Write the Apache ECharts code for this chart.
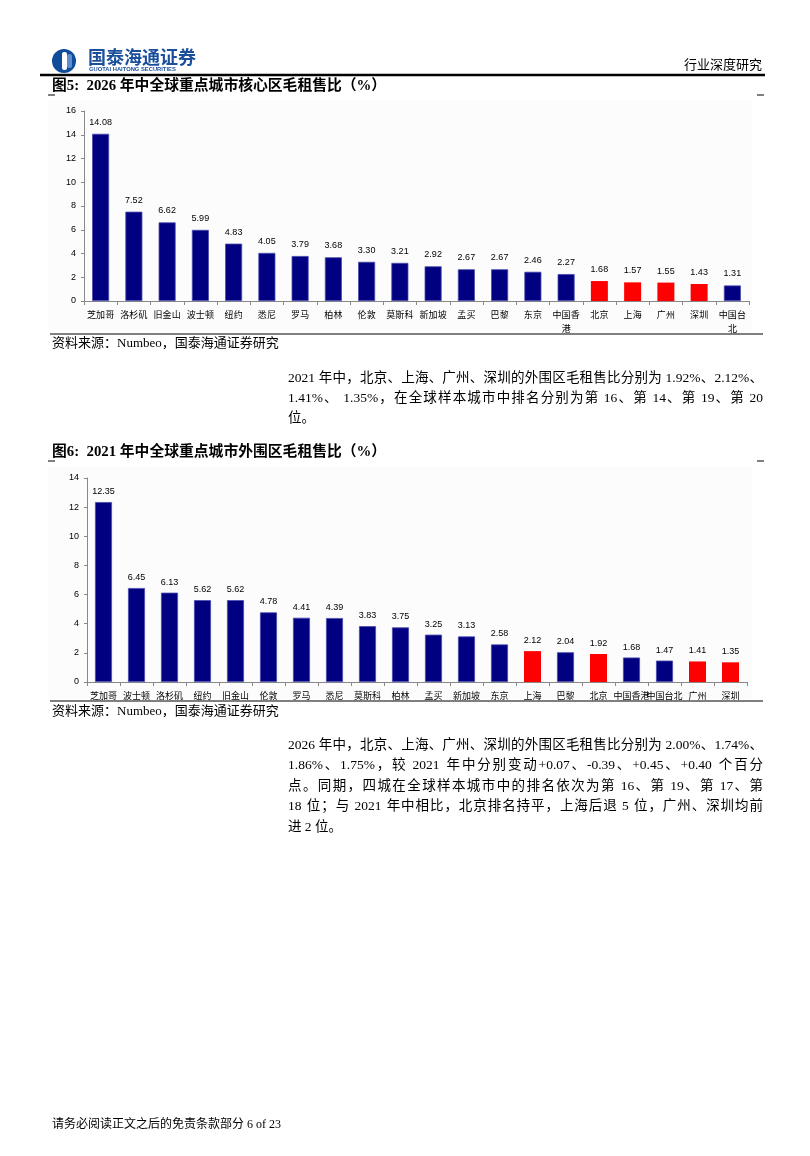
<!DOCTYPE html>
<html>
<head>
<meta charset="utf-8">
<script src="https://cdn.jsdelivr.net/npm/echarts@6/dist/echarts.min.js"></script>
<style>
  body { margin: 0; background: #fff; }
  #page { width: 810px; height: 1156px; }
</style>
</head>
<body>
<div id="page"></div>
<script>
/* 图5 数据：2026 年中核心区毛租售比 */
var cities2026 = ['芝加哥', '洛杉矶', '旧金山', '波士顿', '纽约', '悉尼', '罗马', '柏林', '伦敦', '莫斯科',
    '新加坡', '孟买', '巴黎', '东京', '中国香\n港', '北京', '上海', '广州', '深圳', '中国台\n北'];
var values2026 = [14.08, 7.52, 6.62, 5.99, 4.83, 4.05, 3.79, 3.68, 3.30, 3.21,
    2.92, 2.67, 2.67, 2.46, 2.27, 1.68, 1.57, 1.55, 1.43, 1.31];

/* 图6 数据：2021 年中外围区毛租售比 */
var cities2021 = ['芝加哥', '波士顿', '洛杉矶', '纽约', '旧金山', '伦敦', '罗马', '悉尼', '莫斯科', '柏林',
    '孟买', '新加坡', '东京', '上海', '巴黎', '北京', '中国香港', '中国台北', '广州', '深圳'];
var values2021 = [12.35, 6.45, 6.13, 5.62, 5.62, 4.78, 4.41, 4.39, 3.83, 3.75,
    3.25, 3.13, 2.58, 2.12, 2.04, 1.92, 1.68, 1.47, 1.41, 1.35];

var highlight = ['北京', '上海', '广州', '深圳'];

var yTicks1 = { min: 0, max: 16, interval: 2 };
var yTicks2 = { min: 0, max: 14, interval: 2 };

var para1 = [
    '2021 年中，北京、上海、广州、深圳的外围区毛租售比分别为 1.92%、2.12%、',
    '1.41%、 1.35%，在全球样本城市中排名分别为第 16、第 14、第 19、第 20',
    '位。'
];
var para2 = [
    '2026 年中，北京、上海、广州、深圳的外围区毛租售比分别为 2.00%、1.74%、',
    '1.86%、1.75%，较 2021 年中分别变动+0.07、-0.39、+0.45、+0.40 个百分',
    '点。同期，四城在全球样本城市中的排名依次为第 16、第 19、第 17、第',
    '18 位；与 2021 年中相比，北京排名持平，上海后退 5 位，广州、深圳均前',
    '进 2 位。'
];

var serif = '"Liberation Serif", "Noto Sans CJK SC", serif';
var sans = '"Liberation Sans", Arial, sans-serif';
var cjk = '"Noto Sans CJK SC", sans-serif';

var dom = document.getElementById('page');
var myChart = echarts.init(dom);

function barData(cities, values) {
    return values.map(function (v, i) {
        var red = highlight.indexOf(cities[i]) >= 0;
        return {
            value: v,
            itemStyle: red ? { color: '#ff0000', borderWidth: 0 }
                           : { color: '#000080', borderColor: '#4a4ab0', borderWidth: 0.8 }
        };
    });
}

function xAxisOf(grid, cities) {
    return {
        type: 'category', gridIndex: grid, data: cities,
        axisLine: { lineStyle: { color: '#888', width: 1 } },
        axisTick: { show: true, length: 4, lineStyle: { color: '#888' } },
        axisLabel: { interval: 0, margin: 7, fontSize: 9, fontFamily: cjk, color: '#000', lineHeight: 14 }
    };
}

function yAxisOf(grid, t) {
    return {
        type: 'value', gridIndex: grid, min: t.min, max: t.max, interval: t.interval,
        splitLine: { show: false },
        axisLine: { show: true, lineStyle: { color: '#888', width: 1 } },
        axisTick: { show: true, length: 3, lineStyle: { color: '#888' } },
        axisLabel: { margin: 8, fontSize: 9, fontFamily: sans, color: '#000' }
    };
}

function txt(x, y, text, size, opts) {
    opts = opts || {};
    return {
        type: 'text', z: 10,
        style: {
            x: x, y: y, text: text, fontSize: size,
            fontFamily: opts.family || serif, fontWeight: opts.weight || 'normal',
            fill: opts.fill || '#000', align: opts.align || 'left', verticalAlign: 'middle'
        }
    };
}

function hline(x1, x2, y, w) {
    return { type: 'line', z: 10, shape: { x1: x1, y1: y, x2: x2, y2: y }, style: { stroke: '#000', lineWidth: w } };
}

/* 两端对齐的正文：按字/词拆分后平均分配多余宽度 */
var ctx = document.createElement('canvas').getContext('2d');
function justifyLine(line, x0, x1, y, size, last) {
    ctx.font = size + 'px ' + serif;
    var pieces = line.match(/[\u3000-\u9fff\uff00-\uffef]|[^\u3000-\u9fff\uff00-\uffef\s]+|\s+/g);
    var widths = pieces.map(function (p) { return ctx.measureText(p).width; });
    var total = widths.reduce(function (a, b) { return a + b; }, 0);
    var gap = last ? 0 : (x1 - x0 - total) / (pieces.length - 1);
    var out = [];
    var x = x0;
    pieces.forEach(function (p, i) {
        if (!/^\s+$/.test(p)) out.push(txt(x, y, p, size));
        x += widths[i] + gap;
    });
    return out;
}

var graphics = [
    // 图表底色
    { type: 'rect', z: -10, shape: { x: 48, y: 100, width: 704, height: 232 }, style: { fill: '#fcfcfc' } },
    { type: 'rect', z: -10, shape: { x: 48, y: 467, width: 704, height: 231 }, style: { fill: '#fcfcfc' } },
    // 页眉 logo
    { type: 'circle', z: 10, shape: { cx: 64, cy: 61, r: 12 }, style: { fill: '#0f4c9c' } },
    { type: 'rect', z: 11, shape: { x: 62, y: 52, width: 5, height: 18, r: 2 }, style: { fill: '#fff' } },
    { type: 'rect', z: 11, shape: { x: 67, y: 54, width: 5, height: 14, r: 2 }, style: { fill: '#5b8fd0' } },
    txt(88, 57, '国泰海通证券', 18, { family: cjk, weight: 'bold', fill: '#1b4f9c' }),
    txt(89, 69, 'GUOTAI HAITONG SECURITIES', 5.8, { family: sans, weight: 'bold', fill: '#1b4f9c' }),
    txt(762, 64, '行业深度研究', 13, { align: 'right', family: cjk }),
    hline(40, 765, 75, 2.5),
    // 图5
    txt(52, 86, '图5:  2026 年中全球重点城市核心区毛租售比（%）', 14.8, { weight: 'bold' }),
    hline(48, 55, 95, 1), hline(757, 764, 95, 1),
    hline(50, 763, 334, 1.2),
    txt(52, 344, '资料来源：Numbeo，国泰海通证券研究', 13),
    // 图6
    txt(52, 452, '图6:  2021 年中全球重点城市外围区毛租售比（%）', 14.8, { weight: 'bold' }),
    hline(48, 55, 461, 1), hline(757, 764, 461, 1),
    hline(50, 763, 701, 1.2),
    txt(52, 712, '资料来源：Numbeo，国泰海通证券研究', 13),
    // 页脚
    txt(52, 1125, '请务必阅读正文之后的免责条款部分 6 of 23', 12)
];

para1.forEach(function (line, i) {
    graphics = graphics.concat(justifyLine(line, 288, 763, 378 + i * 20, 13.5, i === para1.length - 1));
});
para2.forEach(function (line, i) {
    graphics = graphics.concat(justifyLine(line, 288, 763, 745 + i * 20.5, 13.5, i === para2.length - 1));
});

var labelStyle = { show: true, position: 'top', fontSize: 9, fontFamily: sans, color: '#000',
    formatter: function (p) { return p.value.toFixed(2); } };

var option = {
    animation: false,
    grid: [
        { left: 84, width: 665, top: 111, height: 190 },
        { left: 87, width: 660, top: 478, height: 204 }
    ],
    xAxis: [xAxisOf(0, cities2026), xAxisOf(1, cities2021)],
    yAxis: [yAxisOf(0, yTicks1), yAxisOf(1, yTicks2)],
    series: [
        {
            name: '2026核心区', type: 'bar', xAxisIndex: 0, yAxisIndex: 0, barWidth: 17,
            data: barData(cities2026, values2026),
            label: Object.assign({ distance: 7 }, labelStyle)
        },
        {
            name: '2021外围区', type: 'bar', xAxisIndex: 1, yAxisIndex: 1, barWidth: 17,
            data: barData(cities2021, values2021),
            label: Object.assign({ distance: 6 }, labelStyle)
        }
    ],
    graphic: graphics
};

if (option && typeof option === 'object') {
    myChart.setOption(option, true);
}
</script>
</body>
</html>
